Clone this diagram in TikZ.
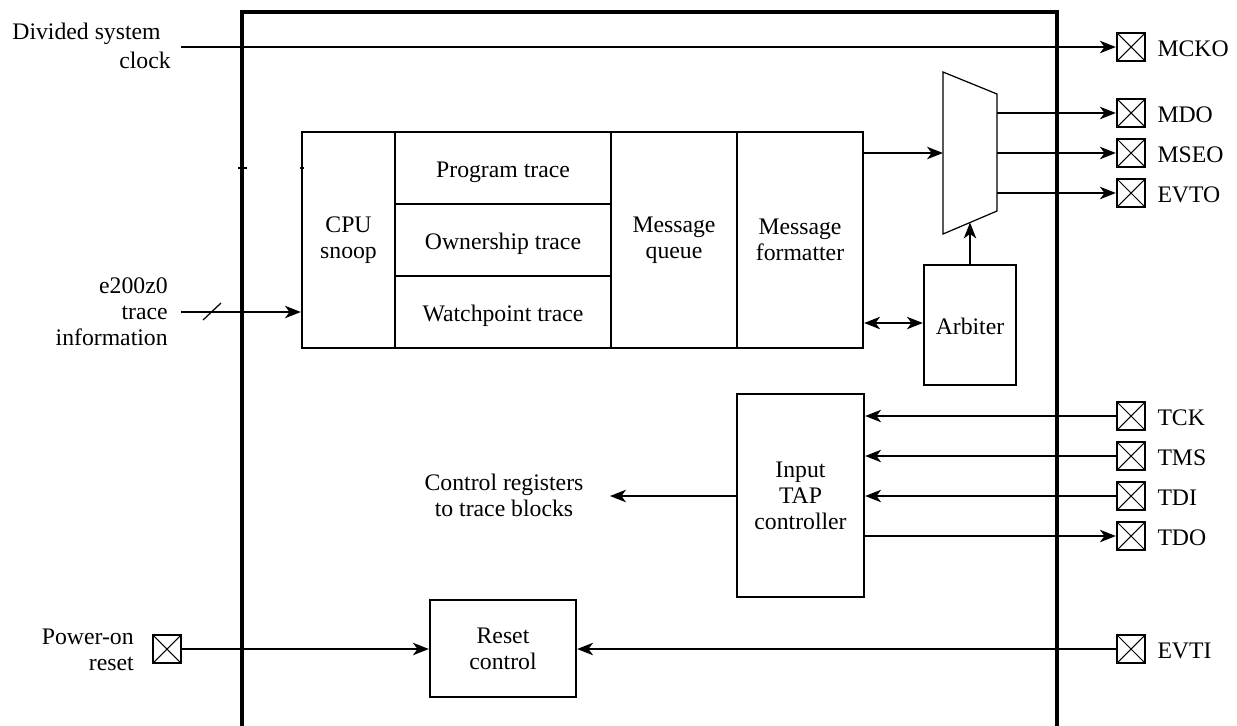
\documentclass[tikz,border=0pt]{standalone}
\usepackage{fontspec}
\setmainfont{Liberation Serif}
\usetikzlibrary{arrows.meta}
\newcommand{\fs}{\fontsize{13.5}{14.8}\selectfont}
\newcommand{\lo}[1]{\raisebox{-5.2pt}[0pt][0pt]{#1}}
\begin{document}
\begin{tikzpicture}[x=0.02cm,y=-0.02cm,
  blk/.style={draw, line width=1.3pt, inner sep=0pt, align=center, font=\fs},
  lbl/.style={inner sep=0pt, font=\fs},
  pad/.style={draw, line width=1.3pt, minimum size=0.56cm, inner sep=0pt,
    path picture={\draw[line width=0.6pt] (path picture bounding box.south west)--(path picture bounding box.north east)
      (path picture bounding box.north west)--(path picture bounding box.south east);}},
  sig/.style={line width=1.3pt},
  tip/.tip={Stealth[length=9pt,width=7pt,inset=2.5pt]},
  arr/.style={sig, -tip},
  frame/.style={line width=1.9pt},
  thin/.style={line width=0.7pt}]
\useasboundingbox (0,0) rectangle (1237,725);
% outer frame
\draw[frame] (242,726) -- (242,12) -- (1057,12) -- (1057,726);
\draw[line width=0.8pt] (238,168) -- (247,168);
\draw[line width=0.6pt] (300,168) -- (304,168);
% trace block
\node[blk, minimum width=1.86cm, minimum height=4.32cm] (snoop) at (348.5,240) {CPU\\snoop};
\node[blk, minimum width=4.32cm, minimum height=1.44cm] (prog) at (503,168) {\lo{Program trace}};
\node[blk, minimum width=4.32cm, minimum height=1.44cm] (own) at (503,240) {\lo{Ownership trace}};
\node[blk, minimum width=4.32cm, minimum height=1.44cm] (watch) at (503,312) {\lo{Watchpoint trace}};
\node[blk, minimum width=2.52cm, minimum height=4.32cm] (queue) at (674,240) {Message\\queue};
\node[blk, minimum width=2.52cm, minimum height=4.32cm] (fmt) at (800,240) {Message\\formatter};
\node[blk, minimum width=1.84cm, minimum height=2.4cm] (arb) at (970,325) {\lo{Arbiter}};
\node[blk, minimum width=2.54cm, minimum height=4.06cm] (tap) at (800.5,495.5) {Input\\TAP\\controller};
\node[blk, minimum width=2.92cm, minimum height=1.94cm] (reset) at (503,648.5) {Reset\\control};
% mux
\coordinate (m1) at (943,72);
\coordinate (m2) at (997,94);
\coordinate (m3) at (997,211);
\coordinate (m4) at (943,234);
\draw[thin] (m1) -- (m2) -- (m3) -- (m4) -- cycle;
\coordinate (muxin) at (943,153);
\coordinate (muxsel) at (970,222.5);
% pads
\node[pad] (mcko) at (1131,47) {};
\node[pad] (mdo) at (1131,113) {};
\node[pad] (mseo) at (1131,153) {};
\node[pad] (evto) at (1131,193) {};
\node[pad] (tck) at (1131,416) {};
\node[pad] (tms) at (1131,456) {};
\node[pad] (tdi) at (1131,496) {};
\node[pad] (tdo) at (1131,536) {};
\node[pad] (evti) at (1131,649) {};
\node[pad] (por) at (167,649) {};
\foreach \n/\t in {mcko/MCKO,mdo/MDO,mseo/MSEO,evto/EVTO,tck/TCK,tms/TMS,tdi/TDI,tdo/TDO,evti/EVTI}
  \node[lbl, anchor=west] (\n-l) at ([xshift=0.22cm, yshift=-1pt]\n.east) {\t};
% left texts
\node[lbl, anchor=east] (dsc1) at (161,34) {Divided system};
\node[lbl, anchor=east] (dsc2) at (171,60) {clock};
\node[lbl, anchor=east, align=right] (e200) at (168,312) {e200z0\\trace\\information};
\node[lbl, anchor=east, align=right] (porl) at (134,650) {Power-on\\reset};
\node[lbl, align=center] (ctrl) at (504,495) {Control registers\\to trace blocks};
% connectors
\coordinate (clkin) at (181,47);
\draw[arr] (clkin) -- (mcko.west);
\draw[arr] (fmt.east |- muxin) -- (muxin);
\draw[arr] (m2 |- mdo) -- (mdo.west);
\draw[arr] (m2 |- mseo) -- (mseo.west);
\draw[arr] (m2 |- evto) -- (evto.west);
\draw[arr] (arb.north) -- (muxsel);
\draw[sig, tip-tip] (fmt.east |- 0,323) -- (arb.west |- 0,323);
\coordinate (trin) at (181,312);
\draw[arr] (trin) -- (snoop.west |- trin);
\draw[thin] (203,320) -- (221,303);
\draw[arr] (tck.west) -- (tap.east |- tck);
\draw[arr] (tms.west) -- (tap.east |- tms);
\draw[arr] (tdi.west) -- (tap.east |- tdi);
\draw[arr] (tap.east |- tdo) -- (tdo.west);
\coordinate (ctrlend) at (610,496);
\draw[arr] (tap.west |- ctrlend) -- (ctrlend);
\draw[arr] (por.east) -- (reset.west |- por);
\draw[arr] (evti.west) -- (reset.east |- evti);
\end{tikzpicture}
\end{document}
